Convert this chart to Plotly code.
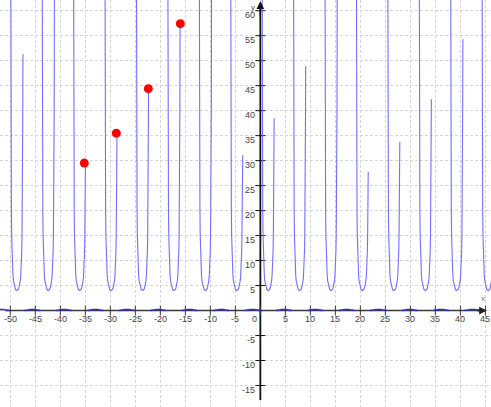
import plotly.graph_objects as go

# ---- data ----
# x positions of the minima of the U-shaped branches
u_centers = [-48.69, -42.41, -36.13, -29.85, -23.56, -17.28, -10.99, -4.71,
             1.57, 7.85, 14.14, 20.42, 26.70, 32.99, 39.27, 45.55]
# half-profile of one U branch (distance from minimum -> height)
u_profile_dx = [0.0, 0.261, 0.398, 0.533, 0.686, 0.777, 0.841, 0.925, 0.979,
                1.033, 1.090, 1.126, 1.151, 1.186, 1.209, 1.228, 1.24]
u_profile_y = [4.0, 4.2, 4.5, 5.0, 6.0, 7.0, 8.0, 10.0, 12.0,
               15.0, 20.0, 25.0, 30.0, 40.0, 50.0, 62.0, 80.0]
# how high each right arm is drawn (80 = beyond the top of the view)
right_arm_top = [51.3, 80, 29.5, 35.5, 44.4, 57.4, 80, 31.1, 38.5, 48.9,
                 80, 27.8, 33.8, 42.3, 54.3, 80]
# small bumps lying on the x axis
bump_centers = [-51.84, -45.55, -39.27, -32.99, -26.70, -20.42, -14.14, -7.85,
                -1.57, 4.71, 10.99, 17.28, 23.56, 29.85, 36.13, 42.41]
bump_dx = [-1.57, -1.3, -1.0, -0.5, 0.0, 0.5, 1.0, 1.3, 1.57]
bump_y = [0.0, 0.006, 0.077, 0.206, 0.25, 0.206, 0.077, 0.006, 0.0]
# red points
dot_x = [-35.2, -28.8, -22.4, -16.0]
dot_y = [29.5, 35.5, 44.4, 57.4]
# tick labels
x_ticks = [-50, -45, -40, -35, -30, -25, -20, -15, -10, -5,
           5, 10, 15, 20, 25, 30, 35, 40, 45]
y_ticks = [-15, -10, -5, 5, 10, 15, 20, 25, 30, 35, 40, 45, 50, 55, 60]

X_RANGE = [-52.06, 46.12]
Y_RANGE = [-19.3, 62.14]
CURVE = "#7070ff"
LABEL_FONT = dict(family="Liberation Sans, Arial, sans-serif", size=9, color="#444444")

fig = go.Figure()

# axes (drawn first, under the curves)
fig.add_trace(go.Scatter(x=[-51.0, 45.0], y=[0, 0], mode="lines",
                         line=dict(color="#3a3a3a", width=1.6), hoverinfo="skip"))
fig.add_trace(go.Scatter(x=[0, 0], y=[-17.9, 61.5], mode="lines",
                         line=dict(color="#111111", width=1.8), hoverinfo="skip"))
# axis tick marks
fig.add_trace(go.Scatter(x=x_ticks + [0], y=[0] * (len(x_ticks) + 1), mode="markers",
                         marker=dict(symbol="line-ns", size=7,
                                     line=dict(color="#3a3a3a", width=1)),
                         hoverinfo="skip"))
fig.add_trace(go.Scatter(x=[0] * len(y_ticks), y=y_ticks, mode="markers",
                         marker=dict(symbol="line-ew", size=7,
                                     line=dict(color="#111111", width=1)),
                         hoverinfo="skip"))

# U-shaped branches
ux, uy = [], []
for c, top in zip(u_centers, right_arm_top):
    for dx, y in zip(reversed(u_profile_dx), reversed(u_profile_y)):
        ux.append(c - dx)
        uy.append(y)
    for dx, y in zip(u_profile_dx[1:], u_profile_y[1:]):
        if y < top:
            ux.append(c + dx)
            uy.append(y)
        else:
            ux.append(c + dx)
            uy.append(top)
            break
    ux.append(None)
    uy.append(None)
fig.add_trace(go.Scatter(x=ux, y=uy, mode="lines",
                         line=dict(color=CURVE, width=1.1), hoverinfo="skip"))

# small bumps on the axis
bx, by = [], []
for c in bump_centers:
    for dx, y in zip(bump_dx, bump_y):
        bx.append(c + dx)
        by.append(y)
    bx.append(None)
    by.append(None)
fig.add_trace(go.Scatter(x=bx, y=by, mode="lines",
                         line=dict(color="#3030c8", width=1.6), hoverinfo="skip"))

# red points
fig.add_trace(go.Scatter(x=dot_x, y=dot_y, mode="markers",
                         marker=dict(color="#ff0000", size=9, line=dict(width=0)),
                         hoverinfo="skip"))

annotations = []
for t in x_ticks:
    annotations.append(dict(x=t, y=0, text=str(t), showarrow=False, xanchor="center",
                            yanchor="middle", yshift=-8, font=LABEL_FONT))
annotations.append(dict(x=0, y=0, text="0", showarrow=False, xanchor="right",
                        yanchor="middle", xshift=-1, yshift=-8, font=LABEL_FONT))
for t in y_ticks:
    annotations.append(dict(x=0, y=t, text=str(t), showarrow=False, xanchor="right",
                            yanchor="middle", xshift=-3, yshift=-4, font=LABEL_FONT))
annotations.append(dict(x=44.6, y=2.4, text="x", showarrow=False,
                        font=dict(family="Liberation Sans, Arial, sans-serif", size=8, color="#777777")))
annotations.append(dict(x=-1.5, y=60.6, text="y", showarrow=False,
                        font=dict(family="Liberation Sans, Arial, sans-serif", size=8, color="#555555")))
annotations.append(dict(x=45.3, y=0, ax=43.0, ay=0, axref="x", ayref="y", xref="x", yref="y",
                        text="", showarrow=True, arrowhead=2, arrowsize=1.1, arrowwidth=1.4,
                        arrowcolor="#222222"))
annotations.append(dict(x=0, y=61.9, ax=0, ay=58.5, axref="x", ayref="y", xref="x", yref="y",
                        text="", showarrow=True, arrowhead=2, arrowsize=1.1, arrowwidth=1.4,
                        arrowcolor="#111111"))

fig.update_layout(
    width=491, height=407,
    margin=dict(l=0, r=0, t=0, b=0),
    paper_bgcolor="white", plot_bgcolor="white",
    showlegend=False,
    annotations=annotations,
    xaxis=dict(range=X_RANGE, tickmode="linear", tick0=0, dtick=5,
               showgrid=True, gridcolor="#d6d6d6", griddash="3px,2px", gridwidth=1,
               zeroline=False, showticklabels=False, ticks="", showline=False,
               fixedrange=True),
    yaxis=dict(range=Y_RANGE, tickmode="linear", tick0=0, dtick=5,
               showgrid=True, gridcolor="#d6d6d6", griddash="3px,2px", gridwidth=1,
               zeroline=False, showticklabels=False, ticks="", showline=False,
               fixedrange=True),
)

fig.write_html("out.html", config={"displayModeBar": False},
               post_script="document.body.style.margin='0';document.body.style.overflow='hidden';")
